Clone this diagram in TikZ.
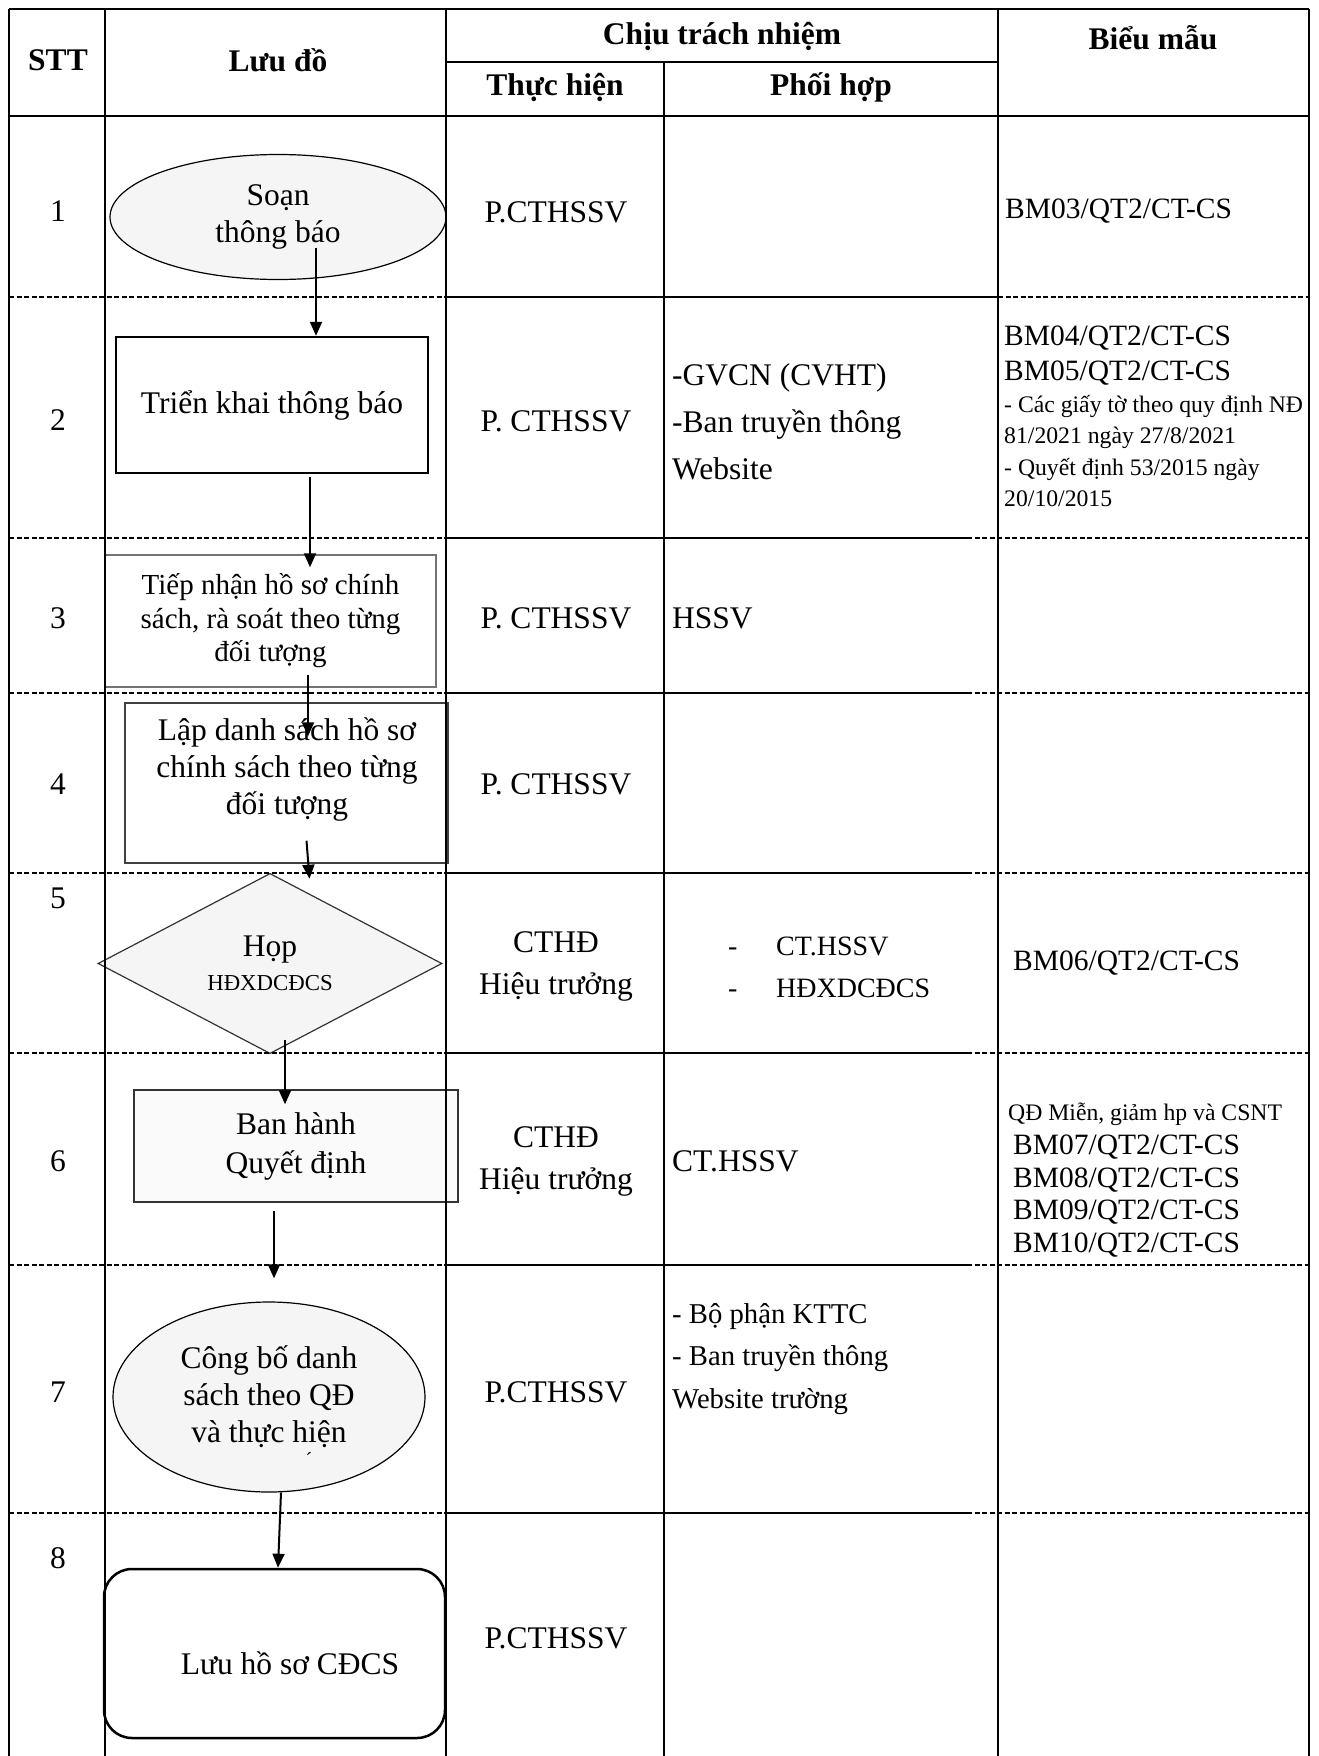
\documentclass[tikz,border=0pt]{standalone}
\usepackage{fontspec}
\setmainfont{Liberation Serif}
\usetikzlibrary{shapes.geometric,arrows.meta,calc}
\colorlet{shapefill}{black!4}

\begin{document}
\begin{tikzpicture}[x=1pt,y=-1pt,
  every node/.style={inner sep=0pt},
  tline/.style={line width=2.8pt},
  dline/.style={line width=1.3pt,dash pattern=on 5pt off 2.5pt},
  big/.style={font=\fontsize{31.5}{37}\selectfont},
  head/.style={font=\bfseries\fontsize{31.5}{37}\selectfont},
  cell/.style={anchor=west,align=left,font=\fontsize{31.5}{47}\selectfont},
  bm/.style={anchor=west,align=left,font=\fontsize{29.5}{33}\selectfont},
  note/.style={anchor=west,align=left,font=\fontsize{23.7}{31.3}\selectfont},
  flowarr/.style={line width=2pt,-{Triangle[length=14pt,width=12pt]}}]
\useasboundingbox (0,0) rectangle (1319,1756);
\fill[white] (0,0) rectangle (1319,1756);

\node[ellipse,draw,line width=1.2pt,fill=shapefill,minimum width=336pt,minimum height=125pt,align=center,big] (s1) at (278,217) {Soạn\\thông báo};
\node[rectangle,draw,line width=2.5pt,minimum width=312pt,minimum height=136pt,big] (s2) at (272,405) {Triển khai thông báo};
\node[rectangle,draw=black!55,line width=1.5pt,minimum width=331pt,minimum height=132pt,align=center,font=\fontsize{29}{33.5}\selectfont] (s3) at (270.5,621) {Tiếp nhận hồ sơ chính\\sách, rà soát theo từng\\đối tượng};
\node[rectangle,draw=black!75,line width=1.5pt,minimum width=323pt,minimum height=160pt] (s4) at (286.5,783) {};
\node[align=center,big] (t4) at (287,769) {Lập danh sách hồ sơ\\chính sách theo từng\\đối tượng};
\node[diamond,draw=black!80,line width=1.2pt,fill=shapefill,minimum width=344pt,minimum height=173pt,align=center,font=\fontsize{31.5}{34}\selectfont] (s5) at (270,963.5) {Họp\\{\fontsize{22.8}{26}\selectfont HĐXDCĐCS}};
\node[rectangle,draw=black!80,line width=1.5pt,fill=black!2,minimum width=324pt,minimum height=112pt,align=center,font=\fontsize{31.5}{39}\selectfont] (s6) at (296,1146) {Ban hành\\Quyết định};
\node[ellipse,draw,line width=1.2pt,fill=shapefill,minimum width=312pt,minimum height=190pt,align=center,big] (s7) at (269,1397) {Công bố danh\\sách theo QĐ\\và thực hiện};
\node[font=\fontsize{20}{20}\selectfont] (mk) at (309,1460) {´};
\node[rectangle,rounded corners=28pt,draw,line width=2.5pt,minimum width=341pt,minimum height=169pt] (s8) at (274.5,1653.5) {};
\node[big] (t8) at (290,1663) {Lưu hồ sơ CĐCS};

\draw[tline] (9,9) -- (1309,9);
\draw[tline] (446,62) -- (998,62);
\draw[tline] (9,116) -- (1309,116);
\foreach \x in {9,105,446,998,1309}
  \draw[tline] (\x,9) -- (\x,1756);
\draw[tline] (664,62) -- (664,1756);
\foreach \y/\e in {297/998,538/967,693/967,873/967,1053/967,1265/967,1513/967} {
  \draw[dline] (9,\y) -- (446,\y);
  \draw[tline] (446,\y) -- (\e,\y);
  \draw[dline] (\e,\y) -- (1309,\y);
}

\node[head] (hstt) at (58,60) {STT};
\node[head] (hlud) at (278,60) {Lưu đồ};
\node[head] (hctn) at (722,36) {Chịu trách nhiệm};
\node[head] (hth) at (555,87) {Thực hiện};
\node[head] (hph) at (831,87) {Phối hợp};
\node[head] (hbm) at (1153,38) {Biểu mẫu};

\foreach \n/\y in {1/211,2/420,3/618,4/784,5/898,6/1161,7/1392,8/1558}
  \node[big] (n\n) at (58,\y) {\n};

\node[big] (th1) at (556,212) {P.CTHSSV};
\node[big] (th2) at (556,421) {P. CTHSSV};
\node[big] (th3) at (556,618) {P. CTHSSV};
\node[big] (th4) at (556,784) {P. CTHSSV};
\node[align=center,font=\fontsize{31.5}{42}\selectfont] (th5) at (556,966) {CTHĐ\\Hiệu trưởng};
\node[align=center,font=\fontsize{31.5}{42}\selectfont] (th6) at (556,1161) {CTHĐ\\Hiệu trưởng};
\node[big] (th7) at (556,1392) {P.CTHSSV};
\node[big] (th8) at (556,1638) {P.CTHSSV};

\node[cell] (ph2) at (672,422) {-GVCN (CVHT)\\-Ban truyền thông\\Website};
\node[cell] (ph3) at (672,618) {HSSV};
\node[anchor=west,align=left,font=\fontsize{28}{42}\selectfont] (ph5) at (728,967) {\makebox[48pt][l]{-}CT.HSSV\\\makebox[48pt][l]{-}HĐXDCĐCS};
\node[cell] (ph6) at (672,1161) {CT.HSSV};
\node[anchor=west,align=left,font=\fontsize{28.7}{42.5}\selectfont] (ph7) at (672,1359) {- Bộ phận KTTC\\- Ban truyền thông\\Website trường};

\node[bm] (bm1) at (1005,211) {BM03/QT2/CT-CS};
\node[bm,font=\fontsize{29.5}{35}\selectfont] (bm2a) at (1004,355.5) {BM04/QT2/CT-CS\\BM05/QT2/CT-CS};
\node[note] (bm2b) at (1004,451) {- Các giấy tờ theo quy định NĐ\\81/2021 ngày 27/8/2021\\- Quyết định 53/2015 ngày\\20/10/2015};
\node[bm] (bm5) at (1013,963) {BM06/QT2/CT-CS};
\node[note] (bm6a) at (1008,1114) {QĐ Miễn, giảm hp và CSNT};
\node[bm,font=\fontsize{29.5}{32.7}\selectfont] (bm6b) at (1013,1196) {BM07/QT2/CT-CS\\BM08/QT2/CT-CS\\BM09/QT2/CT-CS\\BM10/QT2/CT-CS};

\coordinate (a1) at ($(s1.south)+(38,-32.5)$);
\coordinate (a2) at ($(s2.south)+(38,3)$);
\coordinate (a3) at ($(s3.south)+(37.5,-13)$);
\coordinate (a4) at ($(s4.south)+(20,-23)$);
\coordinate (a5) at ($(s5.south)+(15,-14)$);
\coordinate (a6) at ($(s6.south)+(-22,8)$);
\coordinate (a7) at ($(s7.south)+(12,0)$);
\draw[flowarr] (a1) -- (a1 |- s2.north);
\draw[flowarr] (a2) -- ($(a2 |- s3.north)+(0,13)$);
\draw[flowarr] (a3) -- ($(a3 |- s4.north)+(0,34)$);
\draw[flowarr] (a4) -- ($(a4 |- s5.north)+(3,6)$);
\draw[flowarr] (a5) -- ($(a5 |- s6.north)+(0,15)$);
\draw[flowarr] (a6) -- ($(a6 |- s7.north)+(0,-23)$);
\draw[flowarr] (a7) -- ($(a7 |- s8.north)+(-3,0)$);
\end{tikzpicture}
\end{document}
